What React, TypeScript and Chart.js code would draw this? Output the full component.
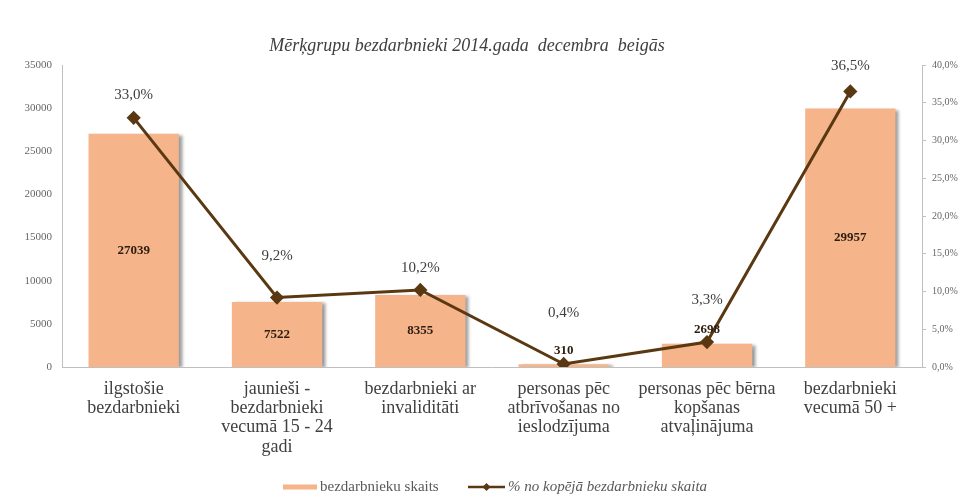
import React, { useEffect, useRef } from "react";
import { Chart, registerables } from "chart.js";

Chart.register(...registerables);

const categories: string[][] = [
  ["ilgstošie", "bezdarbnieki"],
  ["jaunieši -", "bezdarbnieki", "vecumā 15 - 24", "gadi"],
  ["bezdarbnieki ar", "invaliditāti"],
  ["personas pēc", "atbrīvošanas no", "ieslodzījuma"],
  ["personas pēc bērna", "kopšanas", "atvaļinājuma"],
  ["bezdarbnieki", "vecumā 50 +"],
];
const unemployedCount = [27039, 7522, 8355, 310, 2698, 29957];
const sharePercent = [33.0, 9.2, 10.2, 0.4, 3.3, 36.5];
const leftTicks = [0, 5000, 10000, 15000, 20000, 25000, 30000, 35000];
const rightTicks = [0, 5, 10, 15, 20, 25, 30, 35, 40];

const titleText = "Mērķgrupu bezdarbnieki 2014.gada  decembra  beigās";
const barLabel = "bezdarbnieku skaits";
const lineLabel = "% no kopējā bezdarbnieku skaita";

const BAR_COLOR = "#F6B48A";
const LINE_COLOR = "#5A3812";
const SERIF = "'Liberation Serif', 'Times New Roman', serif";
const pctLabelOffsets = [23, 41, 22, 51, 42, 25];

const fmtPct = (v: number) => v.toFixed(1).replace(".", ",") + "%";

export default function App() {
  const ref = useRef<HTMLCanvasElement>(null);

  useEffect(() => {
    if (!ref.current) return;

    const shadowPlugin = {
      id: "barShadow",
      beforeDatasetDraw(chart: any, args: any) {
        if (args.index === 0) {
          const ctx = chart.ctx;
          ctx.save();
          ctx.shadowColor = "rgba(80,80,80,0.55)";
          ctx.shadowOffsetX = 4;
          ctx.shadowOffsetY = 1;
          ctx.shadowBlur = 3;
        }
      },
      afterDatasetDraw(chart: any, args: any) {
        if (args.index === 0) chart.ctx.restore();
      },
    };

    const labelsPlugin = {
      id: "customLabels",
      afterDraw(chart: any) {
        const ctx = chart.ctx;
        ctx.save();
        // title
        ctx.fillStyle = "#404040";
        ctx.font = `italic 18px ${SERIF}`;
        ctx.textAlign = "center";
        ctx.textBaseline = "middle";
        ctx.fillText(titleText, 467, 46);

        // bar labels
        const barMeta = chart.getDatasetMeta(0);
        ctx.font = `bold 13px ${SERIF}`;
        ctx.fillStyle = "#2b1d10";
        barMeta.data.forEach((el: any, i: number) => {
          const top = el.y;
          const bottom = el.base;
          let y = (top + bottom) / 2;
          if (bottom - top < 40) y = top - 14;
          ctx.fillText(String(unemployedCount[i]), el.x, y);
        });

        // percentage labels
        const lineMeta = chart.getDatasetMeta(1);
        ctx.font = `15px ${SERIF}`;
        ctx.fillStyle = "#404040";
        lineMeta.data.forEach((el: any, i: number) => {
          ctx.fillText(fmtPct(sharePercent[i]), el.x, el.y - pctLabelOffsets[i]);
        });

        // legend
        const ly = 487;
        ctx.fillStyle = BAR_COLOR;
        ctx.fillRect(283, ly - 2.5, 34, 5);
        ctx.fillStyle = "#595959";
        ctx.font = `15px ${SERIF}`;
        ctx.textAlign = "left";
        ctx.fillText(barLabel, 320, ly);

        ctx.strokeStyle = LINE_COLOR;
        ctx.lineWidth = 2.5;
        ctx.beginPath();
        ctx.moveTo(468, ly);
        ctx.lineTo(505, ly);
        ctx.stroke();
        ctx.fillStyle = LINE_COLOR;
        ctx.beginPath();
        ctx.moveTo(486.5, ly - 4);
        ctx.lineTo(490.5, ly);
        ctx.lineTo(486.5, ly + 4);
        ctx.lineTo(482.5, ly);
        ctx.closePath();
        ctx.fill();
        ctx.fillStyle = "#595959";
        ctx.font = `italic 15px ${SERIF}`;
        ctx.fillText(lineLabel, 508, ly);
        ctx.restore();
      },
    };

    const chart = new Chart(ref.current, {
      type: "bar",
      data: {
        labels: categories,
        datasets: [
          {
            type: "bar",
            label: barLabel,
            data: unemployedCount,
            backgroundColor: BAR_COLOR,
            borderWidth: 0,
            yAxisID: "y",
            categoryPercentage: 1,
            barPercentage: 0.63,
            order: 1,
          },
          {
            type: "line",
            label: lineLabel,
            data: sharePercent,
            borderColor: LINE_COLOR,
            backgroundColor: LINE_COLOR,
            borderWidth: 3,
            pointStyle: "rectRot",
            pointRadius: 5,
            pointBackgroundColor: LINE_COLOR,
            pointBorderColor: LINE_COLOR,
            tension: 0,
            yAxisID: "y1",
            order: 0,
          },
        ],
      },
      options: {
        responsive: false,
        animation: false,
        layout: { padding: { top: 65, left: 0, right: 0, bottom: 0 } },
        plugins: {
          legend: { display: false },
          title: { display: false },
          tooltip: { enabled: false },
        },
        scales: {
          x: {
            grid: { display: false, drawTicks: false },
            border: { display: true, color: "#bfbfbf", width: 1 },
            ticks: {
              color: "#404040",
              font: { family: SERIF, size: 18, lineHeight: 1.06 },
              padding: 13,
              maxRotation: 0,
              autoSkip: false,
            },
            afterFit(scale: any) {
              scale.height = 127;
            },
          },
          y: {
            position: "left",
            min: 0,
            max: 35000,
            afterBuildTicks(scale: any) {
              scale.ticks = leftTicks.map((v) => ({ value: v }));
            },
            grid: { display: false, drawTicks: false },
            border: { display: true, color: "#bfbfbf", width: 1 },
            ticks: {
              color: "#666666",
              font: { family: SERIF, size: 11 },
              padding: 10,
              callback: (v: any) => String(v),
            },
            afterFit(scale: any) {
              scale.width = 62;
            },
          },
          y1: {
            position: "right",
            min: 0,
            max: 40,
            afterBuildTicks(scale: any) {
              scale.ticks = rightTicks.map((v) => ({ value: v }));
            },
            grid: {
              display: true,
              drawOnChartArea: false,
              drawTicks: true,
              tickLength: 4,
              color: "#bfbfbf",
            },
            border: { display: true, color: "#bfbfbf", width: 1 },
            ticks: {
              color: "#666666",
              font: { family: SERIF, size: 10 },
              padding: 6,
              callback: (v: any) => fmtPct(Number(v)),
            },
            afterFit(scale: any) {
              scale.width = 38;
            },
          },
        },
      },
      plugins: [shadowPlugin, labelsPlugin],
    } as any);

    return () => chart.destroy();
  }, []);

  return (
    <div style={{ position: "fixed", left: 0, top: 0, width: 960, height: 494, background: "#fff" }}>
      <canvas ref={ref} width={960} height={494} />
    </div>
  );
}
